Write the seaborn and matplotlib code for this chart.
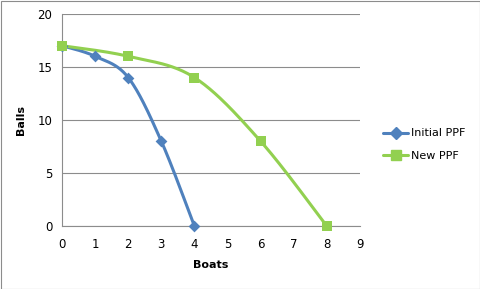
import numpy as np
import pandas as pd
import matplotlib
matplotlib.use("Agg")
import matplotlib.pyplot as plt
import seaborn as sns
from matplotlib.lines import Line2D

initial_x = [0, 1, 2, 3, 4]
initial_y = [17, 16, 14, 8, 0]
new_x = [0, 2, 4, 6, 8]
new_y = [17, 16, 14, 8, 0]
series_names = ["Initial PPF", "New PPF"]
x_ticks = list(range(0, 10))
y_ticks = [0, 5, 10, 15, 20]

BLUE = "#4F81BD"
GREEN = "#92D050"


def smooth(xs, ys, n=40):
    P = np.column_stack([xs, ys]).astype(float)
    ext = np.vstack([P[0], P, P[-1]])
    out = []
    for i in range(len(P) - 1):
        p0, p1, p2, p3 = ext[i], ext[i + 1], ext[i + 2], ext[i + 3]
        c1 = p1 + (p2 - p0) / 6.0
        c2 = p2 - (p3 - p1) / 6.0
        t = np.linspace(0, 1, n)[:, None]
        seg = ((1 - t) ** 3) * p1 + 3 * ((1 - t) ** 2) * t * c1 + 3 * (1 - t) * t ** 2 * c2 + t ** 3 * p2
        out.append(seg if i == 0 else seg[1:])
    s = np.vstack(out)
    return s[:, 0], s[:, 1]


sns.set_theme(style="white")
plt.rcParams["font.family"] = ["DejaVu Sans"]
plt.rcParams["text.color"] = "black"
plt.rcParams["axes.labelcolor"] = "black"
plt.rcParams["xtick.color"] = "black"
plt.rcParams["ytick.color"] = "black"

fig = plt.figure(figsize=(4.81, 2.89), dpi=100)
fig.patch.set_facecolor("white")
ax = fig.add_axes([0.129, 0.218, 0.619, 0.734])

for xs, ys, col, mk, ms, name in [
    (initial_x, initial_y, BLUE, "D", 6, series_names[0]),
    (new_x, new_y, GREEN, "s", 7, series_names[1]),
]:
    sx, sy = smooth(xs, ys)
    df = pd.DataFrame({"x": sx, "y": sy})
    sns.lineplot(data=df, x="x", y="y", sort=False, ax=ax, color=col, linewidth=2.2, estimator=None)
    pts = pd.DataFrame({"x": xs, "y": ys})
    sns.scatterplot(data=pts, x="x", y="y", ax=ax, color=col, marker=mk, s=ms ** 2, edgecolor=col, linewidth=0, zorder=5, clip_on=False)

ax.set_xlim(0, 9)
ax.set_ylim(0, 20)
ax.set_xticks(x_ticks)
ax.set_yticks(y_ticks)
ax.yaxis.grid(True, color="#8c8c8c", linewidth=0.8)
ax.set_axisbelow(True)
for sp in ["top", "right"]:
    ax.spines[sp].set_visible(False)
for sp in ["left", "bottom"]:
    ax.spines[sp].set_color("#8c8c8c")
    ax.spines[sp].set_linewidth(0.8)
ax.tick_params(axis="both", which="both", direction="out", length=4, width=0.8, color="#8c8c8c",
               labelcolor="black", labelsize=8.5, pad=3)
ax.tick_params(axis="x", pad=5)
ax.set_xlabel("Boats", fontsize=8, fontweight="bold", labelpad=6, color="black")
ax.set_ylabel("Balls", fontsize=8, fontweight="bold", labelpad=8, color="black")

handles = [
    Line2D([], [], color=BLUE, marker="D", markersize=6, linewidth=2.2),
    Line2D([], [], color=GREEN, marker="s", markersize=7, linewidth=2.2),
]
fig.legend(handles, series_names, loc="center left", bbox_to_anchor=(0.775, 0.5), frameon=False,
           fontsize=8, handlelength=2.3, handletextpad=0.2, labelspacing=1.1)

fig.patches.append(plt.Rectangle((0.5 / 481, 0.5 / 289), 1 - 1.0 / 481, 1 - 1.0 / 289, transform=fig.transFigure,
                                 fill=False, edgecolor="#8c8c8c", linewidth=0.8))
fig.savefig("out.png", dpi=100)
